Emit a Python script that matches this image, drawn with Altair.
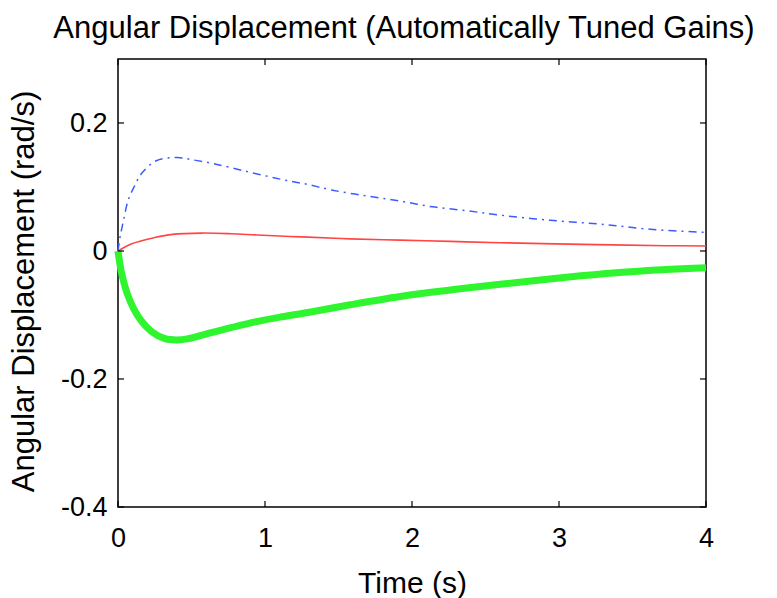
import altair as alt
import pandas as pd

# Response curves (time in s, angular displacement in rad/s)
blue_t = [0, 0.014, 0.036, 0.07, 0.116, 0.16, 0.26, 0.40, 0.52, 0.66, 0.88, 1.11,
          1.29, 1.46, 1.69, 1.92, 2.14, 2.37, 2.6, 2.94, 3.28, 3.62, 4.0]
blue_v = [0, 0.022, 0.046, 0.08, 0.103, 0.121, 0.141, 0.146, 0.142, 0.136, 0.124, 0.112,
          0.104, 0.095, 0.086, 0.078, 0.069, 0.063, 0.056, 0.048, 0.042, 0.034, 0.029]

red_t = [0, 0.09, 0.25, 0.37, 0.57, 0.77, 0.95, 1.25, 1.58, 1.92, 2.26, 2.6, 3.16, 3.73, 4.0]
red_v = [0, 0.011, 0.021, 0.026, 0.028, 0.027, 0.025, 0.022, 0.019, 0.017, 0.015, 0.013,
         0.0104, 0.0083, 0.0078]

green_t = [0, 0.025, 0.07, 0.14, 0.23, 0.32, 0.40, 0.48, 0.61, 0.89, 1.11, 1.32, 1.58,
           1.92, 2.26, 2.6, 3.05, 3.39, 3.73, 4.0]
green_v = [0, -0.035, -0.071, -0.103, -0.126, -0.137, -0.139, -0.137, -0.129, -0.113,
           -0.103, -0.095, -0.084, -0.071, -0.061, -0.052, -0.041, -0.034, -0.029, -0.026]

x_ticks = [0, 1, 2, 3, 4]
y_ticks = [-0.4, -0.2, 0, 0.2]

TITLE = "Angular Displacement (Automatically Tuned Gains)"

W, H = 588, 448
FONT = "Liberation Sans"
TICK_LEN = 6

x_scale = alt.Scale(domain=[0, 4], nice=False, zero=False)
y_scale = alt.Scale(domain=[-0.4, 0.3], nice=False, zero=False)

x_axis = alt.Axis(values=x_ticks, format="d", grid=False, domain=False, ticks=False,
                  tickSize=0, labelPadding=18, labelFontSize=27, labelFont=FONT,
                  labelColor="black", labelFlush=False, title="Time (s)", titleFont=FONT,
                  titleFontSize=30, titleFontWeight="normal", titleColor="black",
                  titleY=85, titleBaseline="alphabetic")
y_axis = alt.Axis(values=y_ticks, grid=False, domain=False, ticks=False, tickSize=0,
                  labelPadding=11, labelFontSize=27, labelFont=FONT, labelColor="black",
                  labelFlush=False,
                  labelExpr="datum.value == 0 ? '0' : (datum.value < 0 ? '-' + "
                            "format(-datum.value, '.1f') : format(datum.value, '.1f'))",
                  title="Angular Displacement (rad/s)", titleFont=FONT, titleFontSize=31,
                  titleFontWeight="normal", titleColor="black", titleX=-85, titleY=232,
                  titleAngle=-90, titleAlign="center", titleBaseline="alphabetic")


def curve(t, v, color, width, dash=None):
    df = pd.DataFrame({"t": t, "v": v})
    kw = dict(color=color, strokeWidth=width, interpolate="catmull-rom")
    if dash:
        kw["strokeDash"] = dash
    return alt.Chart(df).mark_line(**kw).encode(
        x=alt.X("t:Q", scale=x_scale, axis=x_axis),
        y=alt.Y("v:Q", scale=y_scale, axis=y_axis),
    )


blue = curve(blue_t, blue_v, "#3a5cff", 1.5, [8, 5, 2, 5])
red = curve(red_t, red_v, "#ff4545", 1.6)
green = curve(green_t, green_v, "#2ef52e", 7)

# Inward tick marks on all four sides of the box
xt = pd.DataFrame({"t": x_ticks})
yt = pd.DataFrame({"v": y_ticks})
tick_style = dict(color="black", strokeWidth=1.2)
ticks_bottom = alt.Chart(xt).mark_rule(**tick_style).encode(
    x=alt.X("t:Q", scale=x_scale), y=alt.value(H), y2=alt.value(H - TICK_LEN))
ticks_top = alt.Chart(xt).mark_rule(**tick_style).encode(
    x=alt.X("t:Q", scale=x_scale), y=alt.value(0), y2=alt.value(TICK_LEN))
ticks_left = alt.Chart(yt).mark_rule(**tick_style).encode(
    y=alt.Y("v:Q", scale=y_scale), x=alt.value(0), x2=alt.value(TICK_LEN))
ticks_right = alt.Chart(yt).mark_rule(**tick_style).encode(
    y=alt.Y("v:Q", scale=y_scale), x=alt.value(W), x2=alt.value(W - TICK_LEN))

# Chart title, set above the plot box
title = alt.Chart(pd.DataFrame({"s": [TITLE]})).mark_text(
    font=FONT, fontSize=31, color="black", align="center", baseline="alphabetic"
).encode(text="s:N", x=alt.value(W / 2 - 8), y=alt.value(-21))

chart = alt.layer(
    blue, red, green, ticks_bottom, ticks_top, ticks_left, ticks_right, title
).properties(
    width=W,
    height=H,
    autosize=alt.AutoSizeParams(type="none"),
    padding={"left": 118, "top": 59, "right": 71, "bottom": 91},
).configure(
    background="white"
).configure_view(
    stroke="black", strokeWidth=1.5
)

chart.save("out.html", embed_options={"renderer": "svg", "actions": False})
